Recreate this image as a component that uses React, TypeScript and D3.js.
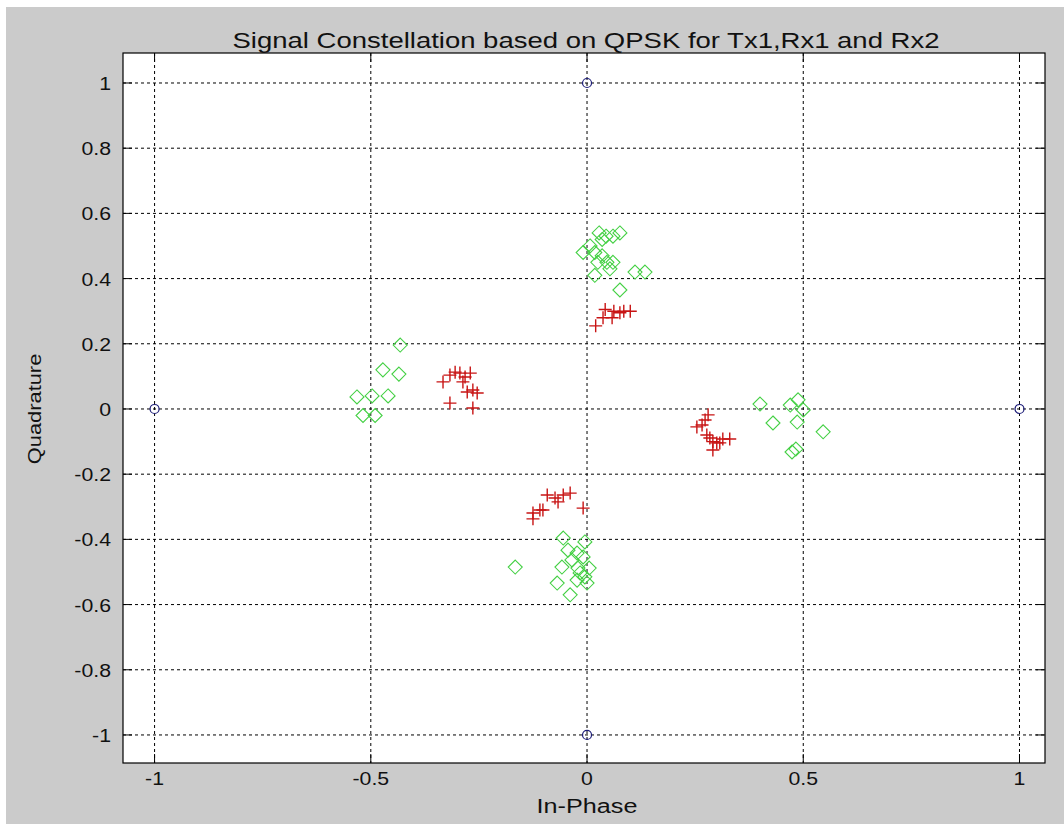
import React from "react";
import * as d3 from "d3";

const W = 1064;
const H = 824;

// Tx1 reference constellation
const txI = [0, 0, -1, 1];
const txQ = [1, -1, 0, 0];

// Rx1 (red +)
const rx1I = [0.02, 0.037, 0.042, 0.062, 0.076, 0.085, 0.1, 0.058,
  -0.333, -0.317, -0.305, -0.294, -0.282, -0.27, -0.287, -0.277, -0.264, -0.254, -0.317, -0.264,
  0.28, 0.273, 0.266, 0.254, 0.277, 0.284, 0.291, 0.3, 0.314, 0.33, 0.291, 0.307,
  -0.092, -0.074, -0.055, -0.039, -0.067, -0.102, -0.125, -0.109, -0.125, -0.009];
const rx1Q = [0.255, 0.28, 0.305, 0.3, 0.295, 0.3, 0.3, 0.28,
  0.083, 0.104, 0.113, 0.11, 0.098, 0.11, 0.083, 0.052, 0.058, 0.049, 0.018, 0.003,
  -0.018, -0.034, -0.049, -0.055, -0.08, -0.089, -0.1, -0.104, -0.092, -0.092, -0.126, -0.104,
  -0.264, -0.273, -0.264, -0.258, -0.285, -0.31, -0.319, -0.31, -0.337, -0.304];

// Rx2 (green diamonds)
const rx2I = [0.028, 0.044, 0.076, 0.035, 0.06, -0.009, 0.007, 0.018, 0.035, 0.046, 0.06, 0.025, 0.018, 0.111, 0.134, 0.076, 0.053,
  -0.432, -0.472, -0.435, -0.532, -0.497, -0.46, -0.518, -0.49,
  0.4, 0.43, 0.47, 0.488, 0.5, 0.486, 0.546, 0.474, 0.483,
  -0.055, -0.005, -0.044, -0.023, -0.009, 0.005, -0.016, -0.005, -0.023, -0.058, -0.069, 0.0, -0.039, -0.166, -0.035, -0.021];
const rx2Q = [0.54, 0.53, 0.54, 0.52, 0.53, 0.48, 0.5, 0.48, 0.47, 0.45, 0.45, 0.45, 0.41, 0.42, 0.42, 0.365, 0.43,
  0.196, 0.12, 0.107, 0.037, 0.04, 0.04, -0.02, -0.02,
  0.015, -0.043, 0.012, 0.028, -0.003, -0.04, -0.07, -0.132, -0.123,
  -0.396, -0.408, -0.433, -0.442, -0.454, -0.488, -0.503, -0.515, -0.525, -0.485, -0.534, -0.534, -0.57, -0.485, -0.463, -0.488];

const xTicks = [-1, -0.5, 0, 0.5, 1];
const yTicks = [-1, -0.8, -0.6, -0.4, -0.2, 0, 0.2, 0.4, 0.6, 0.8, 1];

const TITLE = "Signal Constellation based on QPSK for Tx1,Rx1 and Rx2";
const XLABEL = "In-Phase";
const YLABEL = "Quadrature";

const L = 123, R = 1045, T = 53, B = 763;

const FONT = "'Liberation Sans', Arial, sans-serif";

export default function App() {
  const x = d3.scaleLinear().domain([-1.073, 1.059]).range([L, R]);
  const y = d3.scaleLinear().domain([-1.086, 1.092]).range([B, T]);
  const tick = 9;
  const sx = 1.12;

  const stretch = (px: number, py: number, s: number) =>
    `translate(${px},${py}) scale(${s},1)`;

  return (
    <div style={{ position: "absolute", left: 0, top: 0 }}>
      <svg width={W} height={H} style={{ display: "block" }}>
        <rect x={0} y={0} width={W} height={H} fill="#ffffff" />
        <rect x={6} y={7} width={W - 6} height={H - 7} fill="#cbcbcb" />
        <rect x={L} y={T} width={R - L} height={B - T} fill="#ffffff" />

        {/* grid */}
        {xTicks.map((t) => (
          <line key={"gx" + t} x1={x(t)} x2={x(t)} y1={T} y2={B}
            stroke="#000" strokeWidth={1} strokeDasharray="3,3" />
        ))}
        {yTicks.map((t) => (
          <line key={"gy" + t} x1={L} x2={R} y1={y(t)} y2={y(t)}
            stroke="#000" strokeWidth={1} strokeDasharray="3,3" />
        ))}

        {/* ticks */}
        {xTicks.map((t) => (
          <g key={"tx" + t}>
            <line x1={x(t)} x2={x(t)} y1={B} y2={B - tick} stroke="#000" />
            <line x1={x(t)} x2={x(t)} y1={T} y2={T + tick} stroke="#000" />
          </g>
        ))}
        {yTicks.map((t) => (
          <g key={"ty" + t}>
            <line x1={L} x2={L + tick} y1={y(t)} y2={y(t)} stroke="#000" />
            <line x1={R} x2={R - tick} y1={y(t)} y2={y(t)} stroke="#000" />
          </g>
        ))}

        <rect x={L} y={T} width={R - L} height={B - T} fill="none" stroke="#000" strokeWidth={1.2} />

        {/* Rx2 green diamonds */}
        {rx2I.map((v, i) => {
          const cx = x(v), cy = y(rx2Q[i]);
          const s = 7;
          return (
            <path key={"g" + i}
              d={`M${cx},${cy - s}L${cx + s},${cy}L${cx},${cy + s}L${cx - s},${cy}Z`}
              fill="none" stroke="#44d044" strokeWidth={1.1} />
          );
        })}

        {/* Rx1 red pluses */}
        {rx1I.map((v, i) => {
          const cx = x(v), cy = y(rx1Q[i]);
          const s = 6.5;
          return (
            <path key={"r" + i}
              d={`M${cx - s},${cy}L${cx + s},${cy}M${cx},${cy - s}L${cx},${cy + s}`}
              stroke="#c81414" strokeWidth={1.4} fill="none" />
          );
        })}

        {/* Tx1 blue circles */}
        {txI.map((v, i) => (
          <circle key={"b" + i} cx={x(v)} cy={y(txQ[i])} r={4.5}
            fill="none" stroke="#1c1c78" strokeWidth={1.2} />
        ))}

        {/* tick labels */}
        {xTicks.map((t) => (
          <text key={"lx" + t} transform={stretch(x(t), 785, sx)}
            textAnchor="middle" fontFamily={FONT} fontSize={19} fill="#111">
            {String(t)}
          </text>
        ))}
        {yTicks.map((t) => (
          <text key={"ly" + t} transform={stretch(111, y(t) + 7, sx)}
            textAnchor="end" fontFamily={FONT} fontSize={19} fill="#111">
            {String(t)}
          </text>
        ))}

        <text transform={stretch(586, 48, 1.25)} textAnchor="middle"
          fontFamily={FONT} fontSize={22} fill="#111">{TITLE}</text>
        <text transform={stretch(587, 813, 1.2)} textAnchor="middle"
          fontFamily={FONT} fontSize={21} fill="#111">{XLABEL}</text>
        <text transform={`translate(41,${y(0)}) rotate(-90) scale(1.15,1)`} textAnchor="middle"
          fontFamily={FONT} fontSize={19} fill="#111">{YLABEL}</text>
      </svg>
    </div>
  );
}
